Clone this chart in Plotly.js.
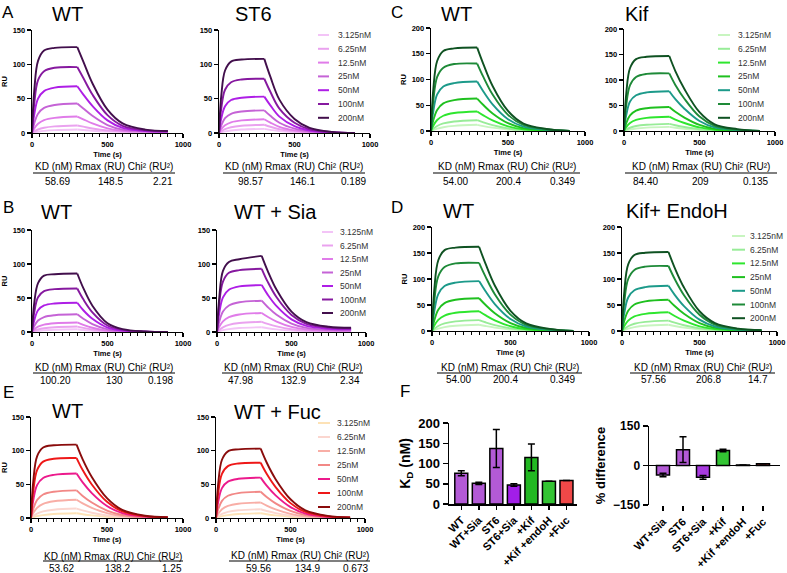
<!DOCTYPE html>
<html><head><meta charset="utf-8">
<script src="https://cdn.plot.ly/plotly-3.0.1.min.js"></script>
<style>html,body{margin:0;padding:0;background:#fff}</style>
</head><body><div id="chart" style="width:787px;height:573px"></div>
<script>
// ---------------- DATA ----------------
const CONC = ['3.125nM','6.25nM','12.5nM','25nM','50nM','100nM','200nM'];
const T_ASSOC = [0, 15, 40, 80, 150, 300];
const T_DISS = [300, 340, 400, 500, 600, 750, 900];
// each row: 6 association values (at T_ASSOC) then 7 dissociation values (at T_DISS), RU
const A_WT = [
 [0,0.8,1.9,3.1,4.2,5, 5,4.3,3.2,2.2,1.8,1.5,1.4],
 [0,2.2,5.1,7.7,9.7,11, 11,9.2,6.6,3.6,2.2,1.6,1.5],
 [0,6.5,13.4,18.7,22,24, 24,20,14,6.8,3.2,2,1.7],
 [0,14,28,36.5,40.8,43, 43,35.7,25,11.6,5,2.4,2],
 [0,27,50,61,66,68, 68,56,39.5,18.4,7.5,3,2.2],
 [0,43,77,90,95,96, 96,80,56,26,10.5,4,2.5],
 [0,62,105,120,124,125, 125,104,72.5,34,14,5,3]
];
const A_ST6 = [
 [0,0.9,2.3,3.7,5,6, 6,4.6,2.7,1.1,0.4,0.1,0],
 [0,2.4,5.5,8.4,10.6,12, 12,9.1,5.4,2.3,0.8,0.2,0],
 [0,5.4,11.2,15.6,18.4,20, 20,15.2,9,3.8,1.4,0.3,0],
 [0,10.9,21.5,28,31.4,33, 33,25,14.9,6.3,2.3,0.5,0],
 [0,21,39,48,51.4,53, 53,40.3,23.9,10,3.7,0.8,0],
 [0,35.5,63,74,78,79, 79,60,35.5,15,5.5,1.2,0],
 [0,54,91,104,107,108, 108,82,48.6,20.5,7.6,1.6,0]
];
const B_WT = [
 [0,0.6,1.5,2.5,3.4,4, 4,3,1.8,0.6,0.2,0,0],
 [0,1.6,3.7,5.6,7,8, 8,6,3.6,1.2,0.4,0.1,0],
 [0,3.8,7.8,10.9,12.9,14, 14,10.5,6.3,2.1,0.7,0.1,0],
 [0,8.6,16.9,22,24.7,26, 26,19.5,11.7,3.9,1.3,0.3,0],
 [0,17,32,39,42,43, 43,32,19.4,6.5,2.2,0.4,0],
 [0,29,51,60,63,64, 64,48,29,9.6,3.2,0.6,0],
 [0,43,72,83,85,86, 86,64.5,38.7,12.9,4.3,0.9,0]
];
const B_SIA = [
 [0,1,2.7,4.3,5.9,7, 7,5.6,3.9,2.2,1.5,1.1,1],
 [0,3,6.9,10.5,13.2,15, 15,12,8.3,4.1,2.3,1.4,1.2],
 [0,7.6,15.7,21.8,25.8,28, 28,22.4,15.4,7.6,3.6,2.2,1.8],
 [0,15,30,39,43.7,46, 46,36.8,25.3,12.4,6,3.2,2.6],
 [0,27.6,51,62,67,69, 69,55,38,18.6,9,4.8,3.8],
 [0,42,74,87,91,93, 93,74,51,25,12,6.5,5],
 [0,50,90,103,107,112, 112,90,62,30,14.6,7.8,6.2]
];
const C_WT = [
 [0,1.8,4.6,7.4,10,12, 12,9.6,6.5,2.9,1.1,0.3,0],
 [0,4.2,9.7,14.7,18.5,21, 21,16.8,11.3,5,1.9,0.5,0],
 [0,10.3,21.3,29.6,35,38, 38,30.4,20.5,9.1,3.4,1,0],
 [0,20.8,41,53.6,60,63, 63,50.4,34,15.1,5.7,1.6,0],
 [0,38.4,71,86.4,93,96, 96,76.8,51.8,23,8.6,2.4,0],
 [0,59,105,123,130,131, 131,105,70.7,31.4,11.8,3.3,0],
 [0,81,136,155.5,160.4,162, 162,130,87.5,38.9,14.6,4,0]
];
const C_KIF = [
 [0,1.2,3,5,6.7,8, 8,6.4,4.5,2,0.7,0.2,0],
 [0,2.8,6.4,9.8,12.3,14, 14,11.2,7.8,3.5,1.3,0.4,0],
 [0,7.6,15.7,21.8,25.8,28, 28,22.4,15.7,7,2.5,0.7,0],
 [0,15.5,30.6,40,44.7,47, 47,37.6,26.3,11.8,4.2,1.2,0],
 [0,31.2,57.7,70,75.7,78, 78,62.4,43.7,19.5,7,2,0],
 [0,51,90,106,112,113, 113,90.4,63.3,28.3,10.2,2.8,0],
 [0,73.5,123.5,141,145.5,147, 147,117.6,82.3,36.8,13.2,3.7,0]
];
const D_WT = C_WT;
const D_ENDOH = [
 [0,1.8,4.6,7.4,10,12, 12,9.6,6.6,3,1.2,0.4,0.1],
 [0,4,9.2,14,17.6,20, 20,16,11,5,2,0.6,0.2],
 [0,9.7,20,28,33,36, 36,28.8,19.8,9,3.6,1.1,0.4],
 [0,19.8,39,51,57,60, 60,48,33,15,6,1.8,0.6],
 [0,34.8,64.4,78.3,84.4,87, 87,69.6,47.9,21.8,8.7,2.6,0.9],
 [0,56,100,117.5,123.8,125, 125,100,68.8,31.3,12.5,3.8,1.3],
 [0,76,128,146,150.5,152, 152,121.6,83.6,38,15.2,4.6,1.5]
];
const E_WT = [
 [0,1,2.7,4.3,5.9,7, 7,5.6,3.9,1.9,0.8,0.2,0.1],
 [0,2.8,6.4,9.8,12.3,14, 14,11.2,7.8,3.8,1.5,0.4,0.1],
 [0,7.3,15.1,21,24.8,27, 27,21.6,15.1,7.3,3,0.8,0.3],
 [0,13.5,26.7,34.9,39,41, 41,32.8,23,11.1,4.5,1.2,0.4],
 [0,26.4,48.8,59.4,64,66, 66,52.8,37,17.8,7.3,2,0.7],
 [0,40,71,83.7,88,89, 89,71.2,49.8,24,9.8,2.7,0.9],
 [0,54.5,91.6,104.6,108,109, 109,87.2,61,29.4,12,3.3,1.1]
];
const E_FUC = [
 [0,1,2.7,4.3,5.9,7, 7,5.6,3.9,1.9,0.8,0.2,0.1],
 [0,2.6,6,9.1,11.4,13, 13,10.4,7.3,3.5,1.4,0.4,0.1],
 [0,6.2,12.9,17.9,21.2,23, 23,18.4,12.9,6.2,2.5,0.7,0.2],
 [0,12.9,25.4,33,37,39, 39,31.2,21.8,10.5,4.3,1.2,0.4],
 [0,24,44.4,54,58.2,60, 60,48,33.6,16.2,6.6,1.8,0.6],
 [0,37,65.6,77,81,82, 82,65.6,45.9,22.1,9,2.5,0.8],
 [0,51.5,86.5,99,102,103, 103,82.4,57.7,27.8,11.3,3.1,1]
];
// fit tables
const TABLE_COLS = ['KD (nM)','Rmax (RU)','Chi² (RU²)'];
const TBL_A_WT = ['58.69','148.5','2.21'];
const TBL_A_ST6 = ['98.57','146.1','0.189'];
const TBL_B_WT = ['100.20','130','0.198'];
const TBL_B_SIA = ['47.98','132.9','2.34'];
const TBL_C_WT = ['54.00','200.4','0.349'];
const TBL_C_KIF = ['84.40','209','0.135'];
const TBL_D_WT = ['54.00','200.4','0.349'];
const TBL_D_ENDOH = ['57.56','206.8','14.7'];
const TBL_E_WT = ['53.62','138.2','1.25'];
const TBL_E_FUC = ['59.56','134.9','0.673'];
// panel F
const F_CATS = ['WT','WT+Sia','ST6','ST6+Sia','+Kif','+Kif +endoH','+Fuc'];
const F_KD = [76, 51, 137, 47, 115, 56, 58];
const F_KD_ERR = [6, 3, 47, 3, 33, 0, 0];
const F_DIFF_CATS = ['WT+Sia','ST6','ST6+Sia','+Kif','+Kif +endoH','+Fuc'];
const F_DIFF = [-36, 60, -45, 57, 2, 7];
const F_DIFF_ERR = [7, 49, 7, 5, 0, 0];

// ---------------- STYLE ----------------
const PURPLE = ['#f3c4f7','#eaa2ef','#e07ce9','#c563d6','#ae1ee6','#86199f','#420f4c'];
const GREEN  = ['#c8f5c0','#98ec98','#2ee62e','#1fc01f','#1c9a8a','#1e8a38','#0f5222'];
const RED    = ['#fde2b6','#fbd6cf','#f8aea6','#f28886','#ec1a8c','#ee1818','#8a0c0c'];
const F_COL  = ['#b35ad6','#b35ad6','#b35ad6','#a21ee8','#22b822','#33c433','#f04848'];
const F_DIFF_COL = ['#b35ad6','#b35ad6','#a83ae0','#33c433','#33c433','#e84040'];

const W = 787, H = 573;
const FONT = 'Liberation Sans, Arial, Helvetica, sans-serif';
const px = x => x / W, py = y => 1 - y / H;

const layout = {width:W, height:H, margin:{l:0,r:0,t:0,b:0}, paper_bgcolor:'#fff',
  plot_bgcolor:'rgba(0,0,0,0)', showlegend:false, font:{family:FONT, color:'#000'},
  annotations:[], shapes:[]};
const traces = [];

function addText(x, y, text, size, opt) {
  layout.annotations.push(Object.assign({xref:'paper', yref:'paper', x:px(x), y:py(y), text:text,
    showarrow:false, xanchor:'center', yanchor:'middle', borderpad:0,
    font:{family:FONT, size:size, color:'#000'}}, opt || {}));
}
function addLine(x0, y0, x1, y1, color, width) {
  layout.shapes.push({type:'line', xref:'paper', yref:'paper', x0:px(x0), x1:px(x1), y0:py(y0), y1:py(y1),
    line:{color:color, width:width}});
}

const SPR = [
 {data:A_WT,   pal:PURPLE, x:[32,183],  y:[30,133],  ymax:150, ru:true,  title:'WT',        tx:67,  ty:14,  tbl:TBL_A_WT,   tb:[33,175,166,173,181], vx:[57,110,163]},
 {data:A_ST6,  pal:PURPLE, x:[219,370], y:[30,133],  ymax:150, title:'ST6',        tx:253, ty:14,  tbl:TBL_A_ST6,  tb:[223,365,166,173,181], vx:[250,302,353], leg:[318,329,337,35,13.8]},
 {data:B_WT,   pal:PURPLE, x:[32,183],  y:[230,332], ymax:150, ru:true,  title:'WT',        tx:56,  ty:212, tbl:TBL_B_WT,   tb:[33,175,367,373,380], vx:[55,114,160]},
 {data:B_SIA,  pal:PURPLE, x:[217,366], y:[230,332], ymax:150, title:'WT + Sia',   tx:275, ty:212, tbl:TBL_B_SIA,  tb:[222,363,367,373,380], vx:[240,293,350], leg:[322,333,339,232,13.5]},
 {data:C_WT,   pal:GREEN,  x:[431,585], y:[28,131],  ymax:200, ru:true,  title:'WT',        tx:456, ty:14,  tbl:TBL_C_WT,   tb:[433,580,166,173,181], vx:[455,508,562]},
 {data:C_KIF,  pal:GREEN,  x:[624,775], y:[29,131],  ymax:200, title:'Kif',        tx:637, ty:14,  tbl:TBL_C_KIF,  tb:[625,777,166,173,181], vx:[645,700,755], leg:[718,730,737,35,13.8]},
 {data:D_WT,   pal:GREEN,  x:[432,589], y:[227,331], ymax:200, ru:true,  title:'WT',        tx:458, ty:211, tbl:TBL_D_WT,   tb:[437,582,367,373,379], vx:[458,505,562]},
 {data:D_ENDOH,pal:GREEN,  x:[622,777], y:[227,331], ymax:200, title:'Kif+ EndoH', tx:677, ty:211, tbl:TBL_D_ENDOH,tb:[630,775,367,373,379], vx:[653,708,758], leg:[732,745,749,236,13.7]},
 {data:E_WT,   pal:RED,    x:[31,183],  y:[417,518], ymax:150, ru:true,  title:'WT',        tx:67,  ty:411, tbl:TBL_E_WT,   tb:[43,183,556,561,568], vx:[61,117,172]},
 {data:E_FUC,  pal:RED,    x:[216,365], y:[417,518], ymax:150, title:'WT + Fuc',   tx:277, ty:412, tbl:TBL_E_FUC,  tb:[229,370,555,561,568], vx:[258,307,355], leg:[318,330,336,423,14]}
];

const xs = T_ASSOC.concat([300], T_DISS);
SPR.forEach((p, i) => {
  const n = i + 1, sx = n === 1 ? '' : String(n);
  layout['xaxis' + sx] = {domain:[px(p.x[0]), px(p.x[1])], anchor:'y' + sx, range:[0,1000],
    tick0:0, dtick:500, ticks:'outside', ticklen:4, tickwidth:1.3, tickcolor:'#000',
    showline:true, linewidth:1.3, linecolor:'#000', showgrid:false, zeroline:false,
    tickfont:{size:7.5, weight:'bold', family:FONT},
    minor:{dtick:50, ticks:'outside', ticklen:2.5, tickwidth:1, tickcolor:'#000', showgrid:false},
    title:{text:'Time (s)', font:{size:7.5, weight:'bold', family:FONT}, standoff:3}};
  const ya = {domain:[py(p.y[1]), py(p.y[0])], anchor:'x' + sx, range:[0, p.ymax],
    tick0:0, dtick:50, ticks:'outside', ticklen:4, tickwidth:1.3, tickcolor:'#000',
    showline:true, linewidth:1.3, linecolor:'#000', showgrid:false, zeroline:false,
    tickfont:{size:7.5, weight:'bold', family:FONT}};
  if (p.ru) ya.title = {text:'RU', font:{size:7.5, weight:'bold', family:FONT}, standoff:4};
  layout['yaxis' + sx] = ya;
  p.data.forEach((row, k) => {
    traces.push({type:'scatter', mode:'lines', x:xs,
      y:row.slice(0,6).concat([null], row.slice(6)),
      xaxis:'x' + sx, yaxis:'y' + sx, name:CONC[k], connectgaps:false,
      line:{color:p.pal[k], width:1.9, shape:'spline', smoothing:1}, hoverinfo:'skip'});
  });
  addText(p.tx, p.ty, p.title, 20);
  // table
  const [x0, x1, hy, ly, vy] = p.tb;
  addText((x0 + x1) / 2, hy, TABLE_COLS.join(' '), 10);
  addLine(x0, ly, x1, ly, '#000', 1.2);
  p.tbl.forEach((v, j) => addText(p.vx[j], vy, v, 10));
  // legend
  if (p.leg) {
    const [l0, l1, tx, y0, dy] = p.leg;
    CONC.forEach((c, k) => {
      addLine(l0, y0 + k * dy, l1, y0 + k * dy, p.pal[k], 2);
      addText(tx, y0 + k * dy, c, 8.5, {xanchor:'left', font:{family:FONT, size:8.5, color:'#333'}});
    });
  }
});

// panel letters
[['A',8,12],['B',8,207],['C',397,12],['D',397,207],['E',8,392],['F',405,391]].forEach(l => addText(l[1], l[2], l[0], 17));

// ---- F left: KD bars ----
layout.xaxis11 = {domain:[px(449), px(577)], anchor:'y11', range:[-0.7, 6.6], showline:true, linewidth:1.5,
  linecolor:'#000', ticks:'outside', ticklen:4, tickwidth:1.5, tickcolor:'#000', tickangle:-45,
  tickfont:{size:11, weight:'bold', family:FONT}, showgrid:false, zeroline:false, type:'category'};
layout.yaxis11 = {domain:[py(504), py(423)], anchor:'x11', range:[0,200], dtick:50, showline:true, linewidth:1.5,
  linecolor:'#000', ticks:'outside', ticklen:5, tickwidth:1.5, tickcolor:'#000',
  tickfont:{size:13, weight:'bold', family:FONT}, showgrid:false, zeroline:false,
  title:{text:'K<sub>D</sub> (nM)', font:{size:14, weight:'bold', family:FONT}, standoff:4}};
traces.push({type:'bar', x:F_CATS, y:F_KD, xaxis:'x11', yaxis:'y11', width:0.74,
  marker:{color:F_COL, line:{color:'#000', width:1.5}},
  error_y:{type:'data', array:F_KD_ERR, color:'#000', thickness:1.5, width:3.5}, hoverinfo:'skip'});

// ---- F right: % difference ----
layout.xaxis12 = {domain:[px(649), px(780)], anchor:'y12', range:[-0.7, 5.85], showline:false,
  ticks:'outside', ticklen:5, tickwidth:1.5, tickcolor:'#000', tickangle:-45,
  tickfont:{size:11, weight:'bold', family:FONT}, showgrid:false, zeroline:false, type:'category'};
layout.yaxis12 = {domain:[py(505), py(426)], anchor:'x12', range:[-150,150], tickvals:[-150,0,150],
  showline:true, linewidth:1.5, linecolor:'#000', ticks:'outside', ticklen:5, tickwidth:1.5, tickcolor:'#000',
  tickfont:{size:12, weight:'bold', family:FONT}, showgrid:false, zeroline:true, zerolinecolor:'#000', zerolinewidth:1.5,
  title:{text:'% difference', font:{size:13, weight:'bold', family:FONT}, standoff:4}};
traces.push({type:'bar', x:F_DIFF_CATS, y:F_DIFF, xaxis:'x12', yaxis:'y12', width:0.65,
  marker:{color:F_DIFF_COL, line:{color:'#000', width:1.5}},
  error_y:{type:'data', array:F_DIFF_ERR, color:'#000', thickness:1.5, width:3.5}, hoverinfo:'skip'});

Plotly.newPlot('chart', traces, layout, {staticPlot:true, displayModeBar:false});
</script>
</body></html>
